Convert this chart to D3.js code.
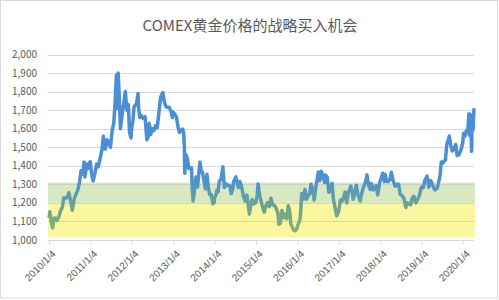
<!DOCTYPE html>
<html>
<head>
<meta charset="utf-8">
<script src="https://cdn.jsdelivr.net/npm/d3@7"></script>
<style>
  html, body { margin: 0; padding: 0; background: #ffffff; }
  #chart { width: 499px; height: 300px; }
</style>
</head>
<body>
<div id="chart"></div>
<script>
// Chart title.
const title = 'COMEX黄金价格的战略买入机会';

// Y-axis ticks.
const yTicks = [1000, 1100, 1200, 1300, 1400, 1500, 1600, 1700, 1800, 1900, 2000];

// X-axis tick labels.
const xTickLabels = [
  '2010/1/4', '2011/1/4', '2012/1/4', '2013/1/4', '2014/1/4', '2015/1/4',
  '2016/1/4', '2017/1/4', '2018/1/4', '2019/1/4', '2020/1/4'
];

// Background bands (price ranges).
const bandLow = [1015, 1200];
const bandHigh = [1200, 1310];
const bandColors = ['#fbf7a0', '#d8e9c2'];

// COMEX gold price.
const gold2010 = [
  ['2010-01-04', 1120], ['2010-01-11', 1152], ['2010-01-25', 1095], ['2010-02-05', 1065],
  ['2010-02-16', 1117], ['2010-03-01', 1118], ['2010-03-15', 1105], ['2010-04-01', 1125],
  ['2010-04-15', 1155], ['2010-05-03', 1180], ['2010-05-14', 1228], ['2010-06-01', 1225],
  ['2010-06-15', 1230], ['2010-06-28', 1255], ['2010-07-15', 1205], ['2010-07-28', 1160],
  ['2010-08-16', 1225], ['2010-09-01', 1250], ['2010-09-15', 1270], ['2010-10-01', 1315],
  ['2010-10-14', 1375], ['2010-11-01', 1355], ['2010-11-09', 1420], ['2010-11-16', 1340],
  ['2010-12-01', 1390], ['2010-12-07', 1410], ['2010-12-15', 1385], ['2010-12-31', 1420]
];
const gold2011 = [
  ['2011-01-03', 1422], ['2011-01-14', 1360], ['2011-01-28', 1318], ['2011-02-14', 1362],
  ['2011-02-28', 1410], ['2011-03-15', 1395], ['2011-03-31', 1440], ['2011-04-15', 1485],
  ['2011-04-29', 1560], ['2011-05-06', 1490], ['2011-05-16', 1490], ['2011-05-31', 1540],
  ['2011-06-15', 1525], ['2011-06-30', 1500], ['2011-07-15', 1590], ['2011-07-29', 1630],
  ['2011-08-08', 1720], ['2011-08-22', 1890], ['2011-08-25', 1710], ['2011-09-06', 1900],
  ['2011-09-15', 1780], ['2011-09-26', 1600], ['2011-10-10', 1670], ['2011-10-27', 1745],
  ['2011-11-08', 1800], ['2011-11-22', 1700], ['2011-12-05', 1730], ['2011-12-15', 1580],
  ['2011-12-29', 1550]
];
const gold2012 = [
  ['2012-01-03', 1600], ['2012-01-13', 1640], ['2012-01-25', 1720], ['2012-02-03', 1725],
  ['2012-02-15', 1735], ['2012-02-28', 1790], ['2012-03-05', 1705], ['2012-03-15', 1660],
  ['2012-03-30', 1670], ['2012-04-13', 1655], ['2012-04-30', 1665], ['2012-05-16', 1540],
  ['2012-05-31', 1560], ['2012-06-06', 1630], ['2012-06-20', 1570], ['2012-07-02', 1600],
  ['2012-07-16', 1590], ['2012-07-31', 1615], ['2012-08-15', 1605], ['2012-08-31', 1690],
  ['2012-09-14', 1770], ['2012-10-04', 1795], ['2012-10-15', 1750], ['2012-10-31', 1720],
  ['2012-11-15', 1715], ['2012-11-30', 1715], ['2012-12-14', 1695], ['2012-12-28', 1660]
];
const gold2013 = [
  ['2013-01-02', 1690], ['2013-01-15', 1680], ['2013-01-31', 1665], ['2013-02-15', 1610],
  ['2013-02-28', 1580], ['2013-03-15', 1592], ['2013-03-28', 1598], ['2013-04-05', 1580],
  ['2013-04-12', 1500], ['2013-04-15', 1360], ['2013-04-26', 1460], ['2013-05-10', 1435],
  ['2013-05-20', 1385], ['2013-05-31', 1390], ['2013-06-14', 1390], ['2013-06-20', 1275],
  ['2013-06-28', 1210], ['2013-07-12', 1280], ['2013-07-23', 1340], ['2013-08-06', 1285],
  ['2013-08-27', 1420], ['2013-09-10', 1365], ['2013-09-19', 1365], ['2013-09-30', 1325],
  ['2013-10-15', 1275], ['2013-10-28', 1355], ['2013-11-08', 1285], ['2013-11-21', 1245],
  ['2013-12-05', 1245], ['2013-12-19', 1195], ['2013-12-31', 1202]
];
const gold2014 = [
  ['2014-01-02', 1225], ['2014-01-15', 1242], ['2014-01-24', 1268], ['2014-02-03', 1260],
  ['2014-02-14', 1318], ['2014-02-28', 1325], ['2014-03-14', 1380], ['2014-03-17', 1395],
  ['2014-03-31', 1283], ['2014-04-15', 1302], ['2014-04-30', 1295], ['2014-05-15', 1294],
  ['2014-05-30', 1250], ['2014-06-13', 1275], ['2014-06-20', 1315], ['2014-07-10', 1340],
  ['2014-07-31', 1282], ['2014-08-14', 1315], ['2014-08-29', 1287], ['2014-09-15', 1235],
  ['2014-09-30', 1210], ['2014-10-15', 1242], ['2014-10-31', 1172], ['2014-11-06', 1140],
  ['2014-11-21', 1198], ['2014-12-01', 1218], ['2014-12-15', 1195], ['2014-12-31', 1200]
];
const gold2015 = [
  ['2015-01-13', 1235], ['2015-01-22', 1302], ['2015-02-06', 1235], ['2015-02-20', 1205],
  ['2015-03-06', 1168], ['2015-03-17', 1150], ['2015-03-31', 1183], ['2015-04-15', 1200],
  ['2015-04-30', 1180], ['2015-05-15', 1225], ['2015-05-29', 1190], ['2015-06-15', 1186],
  ['2015-06-30', 1171], ['2015-07-15', 1148], ['2015-07-24', 1085], ['2015-08-06', 1090],
  ['2015-08-21', 1160], ['2015-09-04', 1120], ['2015-09-18', 1138], ['2015-10-01', 1115],
  ['2015-10-15', 1185], ['2015-10-28', 1155], ['2015-11-06', 1088], ['2015-11-19', 1070],
  ['2015-12-02', 1053], ['2015-12-17', 1050], ['2015-12-31', 1062]
];
const gold2016 = [
  ['2016-01-04', 1075], ['2016-01-15', 1090], ['2016-01-29', 1118], ['2016-02-11', 1250],
  ['2016-02-26', 1220], ['2016-03-10', 1272], ['2016-03-24', 1220], ['2016-04-08', 1240],
  ['2016-04-21', 1250], ['2016-05-02', 1300], ['2016-05-16', 1275], ['2016-05-31', 1215],
  ['2016-06-15', 1290], ['2016-06-24', 1320], ['2016-07-06', 1367], ['2016-07-20', 1320],
  ['2016-08-02', 1370], ['2016-08-16', 1345], ['2016-08-31', 1310], ['2016-09-07', 1350],
  ['2016-09-22', 1340], ['2016-10-07', 1257], ['2016-10-21', 1267], ['2016-11-04', 1305],
  ['2016-11-15', 1225], ['2016-11-30', 1175], ['2016-12-15', 1130], ['2016-12-30', 1150]
];
const gold2017 = [
  ['2017-01-03', 1160], ['2017-01-17', 1215], ['2017-01-31', 1210], ['2017-02-15', 1233],
  ['2017-02-27', 1258], ['2017-03-14', 1200], ['2017-03-27', 1255], ['2017-04-11', 1275],
  ['2017-04-18', 1290], ['2017-05-01', 1258], ['2017-05-09', 1220], ['2017-05-24', 1255],
  ['2017-06-06', 1295], ['2017-06-20', 1245], ['2017-07-10', 1210], ['2017-07-25', 1255],
  ['2017-08-11', 1290], ['2017-08-28', 1315], ['2017-09-08', 1350], ['2017-09-22', 1295],
  ['2017-10-06', 1273], ['2017-10-16', 1305], ['2017-10-31', 1270], ['2017-11-15', 1282],
  ['2017-11-28', 1293], ['2017-12-12', 1243], ['2017-12-29', 1310]
];
const gold2018 = [
  ['2018-01-12', 1335], ['2018-01-25', 1360], ['2018-02-08', 1315], ['2018-02-15', 1355],
  ['2018-03-01', 1315], ['2018-03-15', 1315], ['2018-03-29', 1325], ['2018-04-11', 1365],
  ['2018-04-27', 1320], ['2018-05-15', 1290], ['2018-05-31', 1300], ['2018-06-14', 1300],
  ['2018-06-28', 1245], ['2018-07-13', 1240], ['2018-07-31', 1225], ['2018-08-16', 1175],
  ['2018-08-31', 1200], ['2018-09-14', 1195], ['2018-09-28', 1190], ['2018-10-11', 1225],
  ['2018-10-26', 1235], ['2018-11-13', 1200], ['2018-11-30', 1220], ['2018-12-14', 1240],
  ['2018-12-31', 1282]
];
const gold2019 = [
  ['2019-01-04', 1285], ['2019-01-18', 1282], ['2019-01-31', 1320], ['2019-02-20', 1345],
  ['2019-03-07', 1285], ['2019-03-25', 1320], ['2019-04-08', 1300], ['2019-04-23', 1275],
  ['2019-05-02', 1270], ['2019-05-20', 1278], ['2019-05-31', 1305], ['2019-06-14', 1345],
  ['2019-06-25', 1420], ['2019-07-10', 1415], ['2019-07-19', 1426], ['2019-08-01', 1430],
  ['2019-08-13', 1515], ['2019-08-26', 1540], ['2019-09-04', 1560], ['2019-09-17', 1510],
  ['2019-10-01', 1480], ['2019-10-14', 1490], ['2019-10-31', 1515], ['2019-11-12', 1455],
  ['2019-11-27', 1460], ['2019-12-13', 1480], ['2019-12-31', 1520]
];
const gold2020 = [
  ['2020-01-08', 1575], ['2020-01-20', 1560], ['2020-01-31', 1587], ['2020-02-14', 1585],
  ['2020-02-24', 1680], ['2020-02-28', 1565], ['2020-03-09', 1675], ['2020-03-19', 1478],
  ['2020-03-24', 1660], ['2020-04-01', 1595], ['2020-04-09', 1710]
];

// Build the chart.
const chart = (() => {

  // Figure
  const width = 499;
  const height = 300;
  const marginTop = 54.5;
  const marginBottom = 60;
  const marginLeft = 48;
  const marginRight = 25;
  const svg = d3.create('svg')
      .attr('width', width)
      .attr('height', height)
      .attr('viewBox', [0, 0, width, height])
      .style('font-family', '"Noto Sans CJK SC", "Noto Sans", sans-serif');

  svg.append('rect')
      .attr('x', 0.5).attr('y', 0.5)
      .attr('width', width - 2).attr('height', height - 2.5)
      .attr('fill', '#ffffff')
      .attr('stroke', '#d9d9d9');

  // Data
  const parseDay = d3.timeParse('%Y-%m-%d');
  const parseTick = d3.timeParse('%Y/%m/%d');
  const data = [].concat(gold2010, gold2011, gold2012, gold2013, gold2014, gold2015,
    gold2016, gold2017, gold2018, gold2019, gold2020)
    .map(([d, v]) => ({ date: parseDay(d), value: v }));

  // X values
  const x = d3.scaleTime()
      .domain(d3.extent(data, d => d.date))
      .range([49, 474]);

  // Y values
  const y = d3.scaleLinear()
      .domain([1000, 2000])
      .range([height - marginBottom, marginTop]);

  const left = marginLeft;
  const right = width - marginRight;

  // Bands
  svg.append('g')
    .selectAll('rect')
    .data(bandLow)
    .join('rect')
      .attr('x', left)
      .attr('width', right - left + 1)
      .attr('y', (d, i) => y(bandHigh[i]))
      .attr('height', (d, i) => y(d) - y(bandHigh[i]))
      .attr('fill', (d, i) => bandColors[i]);

  // Gridlines
  svg.append('g')
    .selectAll('line')
    .data(yTicks.slice(1))
    .join('line')
      .attr('x1', left)
      .attr('x2', right)
      .attr('y1', d => Math.round(y(d)) + 0.5)
      .attr('y2', d => Math.round(y(d)) + 0.5)
      .attr('stroke', '#bfbfbf')
      .attr('stroke-opacity', 0.6);

  // X-axis
  const tickDates = xTickLabels.map(parseTick);
  const xAxis = svg.append('g')
      .attr('transform', `translate(0,${Math.round(y(1000)) + 0.5})`)
      .call(d3.axisBottom(x).tickValues(tickDates).tickSize(4).tickFormat((d, i) => xTickLabels[i]));
  xAxis.select('.domain')
      .attr('d', `M${left},0H${right}`)
      .attr('stroke', '#d9d9d9');
  xAxis.selectAll('.tick line').attr('stroke', '#d9d9d9');
  xAxis.selectAll('text')
      .attr('fill', '#595959')
      .attr('font-size', '10px')
      .attr('text-anchor', 'end')
      .attr('dx', '0')
      .attr('dy', '0')
      .attr('transform', 'translate(2,9) rotate(-45)');

  // Y-axis labels
  const fmt = d3.format(',');
  svg.append('g')
    .selectAll('text')
    .data(yTicks)
    .join('text')
      .attr('x', 37)
      .attr('y', d => y(d))
      .attr('dy', '0.35em')
      .attr('text-anchor', 'end')
      .attr('font-size', '10px')
      .attr('fill', '#595959')
      .text(d => fmt(d));

  // Line colour runs from blue at the top to green at the bottom
  const grad = svg.append('defs').append('linearGradient')
      .attr('id', 'goldGrad')
      .attr('gradientUnits', 'userSpaceOnUse')
      .attr('x1', 0).attr('x2', 0)
      .attr('y1', y(1400)).attr('y2', y(1050));
  grad.append('stop').attr('offset', '0%').attr('stop-color', '#4a8fd6');
  grad.append('stop').attr('offset', '25%').attr('stop-color', '#4f92cc');
  grad.append('stop').attr('offset', '55%').attr('stop-color', '#67a19a');
  grad.append('stop').attr('offset', '100%').attr('stop-color', '#86b172');

  // Line
  const line = d3.line().x(d => x(d.date)).y(d => y(d.value));
  svg.append('path')
      .datum(data)
      .attr('fill', 'none')
      .attr('stroke', 'url(#goldGrad)')
      .attr('stroke-width', 3.5)
      .attr('stroke-linejoin', 'round')
      .attr('d', line);

  // Title
  svg.append('text')
      .attr('x', 250)
      .attr('y', 31)
      .attr('text-anchor', 'middle')
      .attr('font-size', '15px')
      .attr('fill', '#595959')
      .text(title);

  document.getElementById('chart').appendChild(svg.node());
})();
</script>
</body>
</html>
